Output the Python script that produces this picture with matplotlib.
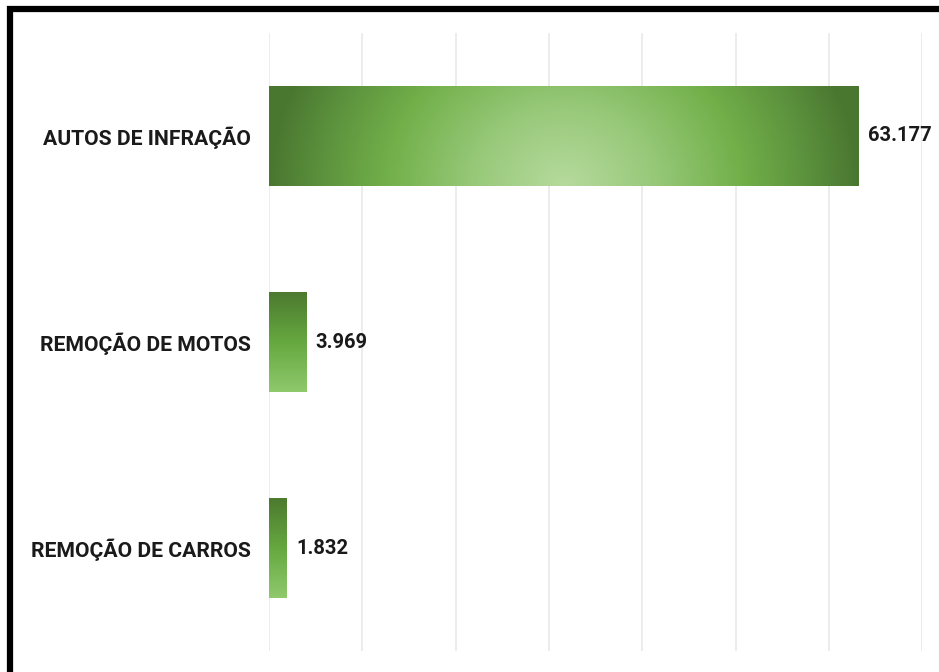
import numpy as np
import matplotlib
matplotlib.use("Agg")
import matplotlib.pyplot as plt
from matplotlib.colors import LinearSegmentedColormap
from matplotlib.lines import Line2D

categories = ["AUTOS DE INFRAÇÃO", "REMOÇÃO DE MOTOS", "REMOÇÃO DE CARROS"]
values = [63177, 3969, 1832]
value_labels = ["63.177", "3.969", "1.832"]

plt.rcParams['font.family'] = ['Roboto', 'DejaVu Sans']

fig = plt.figure(figsize=(9.39, 6.72), dpi=100)
fig.patch.set_facecolor("white")
ax = fig.add_axes([0.2865, 0.031, 0.6955, 0.92])

ypos = np.arange(len(categories))
bars = ax.barh(ypos, values, height=0.485, color="none", edgecolor="none", zorder=3)

ax.set_xlim(0, 70000)
ax.set_ylim(2.5, -0.5)
ax.set_xticks(np.arange(0, 70001, 10000))
ax.set_xticklabels([])
ax.tick_params(length=0)
ax.set_yticks(ypos)
ax.set_yticklabels(categories, fontsize=15.2, fontweight="bold", color="#1a1a1a")
ax.tick_params(axis="y", pad=13)
ax.grid(axis="x", color="#ececec", linewidth=1.4, zorder=0)
for s in ax.spines.values():
    s.set_visible(False)

radial_cmap = LinearSegmentedColormap.from_list(
    "rad", [(0.0, "#b6da9d"), (0.3, "#98c97a"), (0.6, "#72b04a"),
            (0.82, "#5c923d"), (1.0, "#4a7730")])
vert_cmap = LinearSegmentedColormap.from_list(
    "vert", [(0.0, "#4c7a2f"), (0.5, "#66a840"), (1.0, "#8ec96c")])

for i, b in enumerate(bars):
    x0, y0 = b.get_x(), b.get_y()
    w, h = b.get_width(), b.get_height()
    if i == 0:
        t = np.linspace(0, 1, 400)
        v = np.linspace(0, 1, 100)
        T, V = np.meshgrid(t, v)
        d = np.sqrt(((T - 0.5) / 0.5) ** 2 + ((V - 1.0) / 2.6) ** 2)
        d = np.clip(d, 0, 1)
        img = radial_cmap(d)
    else:
        v = np.linspace(0, 1, 100)[:, None] * np.ones((1, 20))
        img = vert_cmap(v)
    ax.imshow(img, extent=[x0, x0 + w, y0 + h, y0], aspect="auto",
              zorder=3, interpolation="bilinear")
    ax.text(x0 + w + 1050, y0 + h / 2, value_labels[i], va="center", ha="left",
            fontsize=14.5, fontweight="bold", color="#1a1a1a", zorder=4)

ax.set_xlim(0, 70000)
ax.set_ylim(2.5, -0.5)

# frame (left and top black border)
W, H = 939, 672
fig.add_artist(Line2D([10 / W, 10 / W], [0, 1 - 6 / H], color="black",
                      linewidth=4.5, transform=fig.transFigure, solid_capstyle="butt"))
fig.add_artist(Line2D([7 / W, 1], [1 - 9 / H, 1 - 9 / H], color="black",
                      linewidth=4.5, transform=fig.transFigure, solid_capstyle="butt"))

fig.savefig("out.png", dpi=100, facecolor="white")
